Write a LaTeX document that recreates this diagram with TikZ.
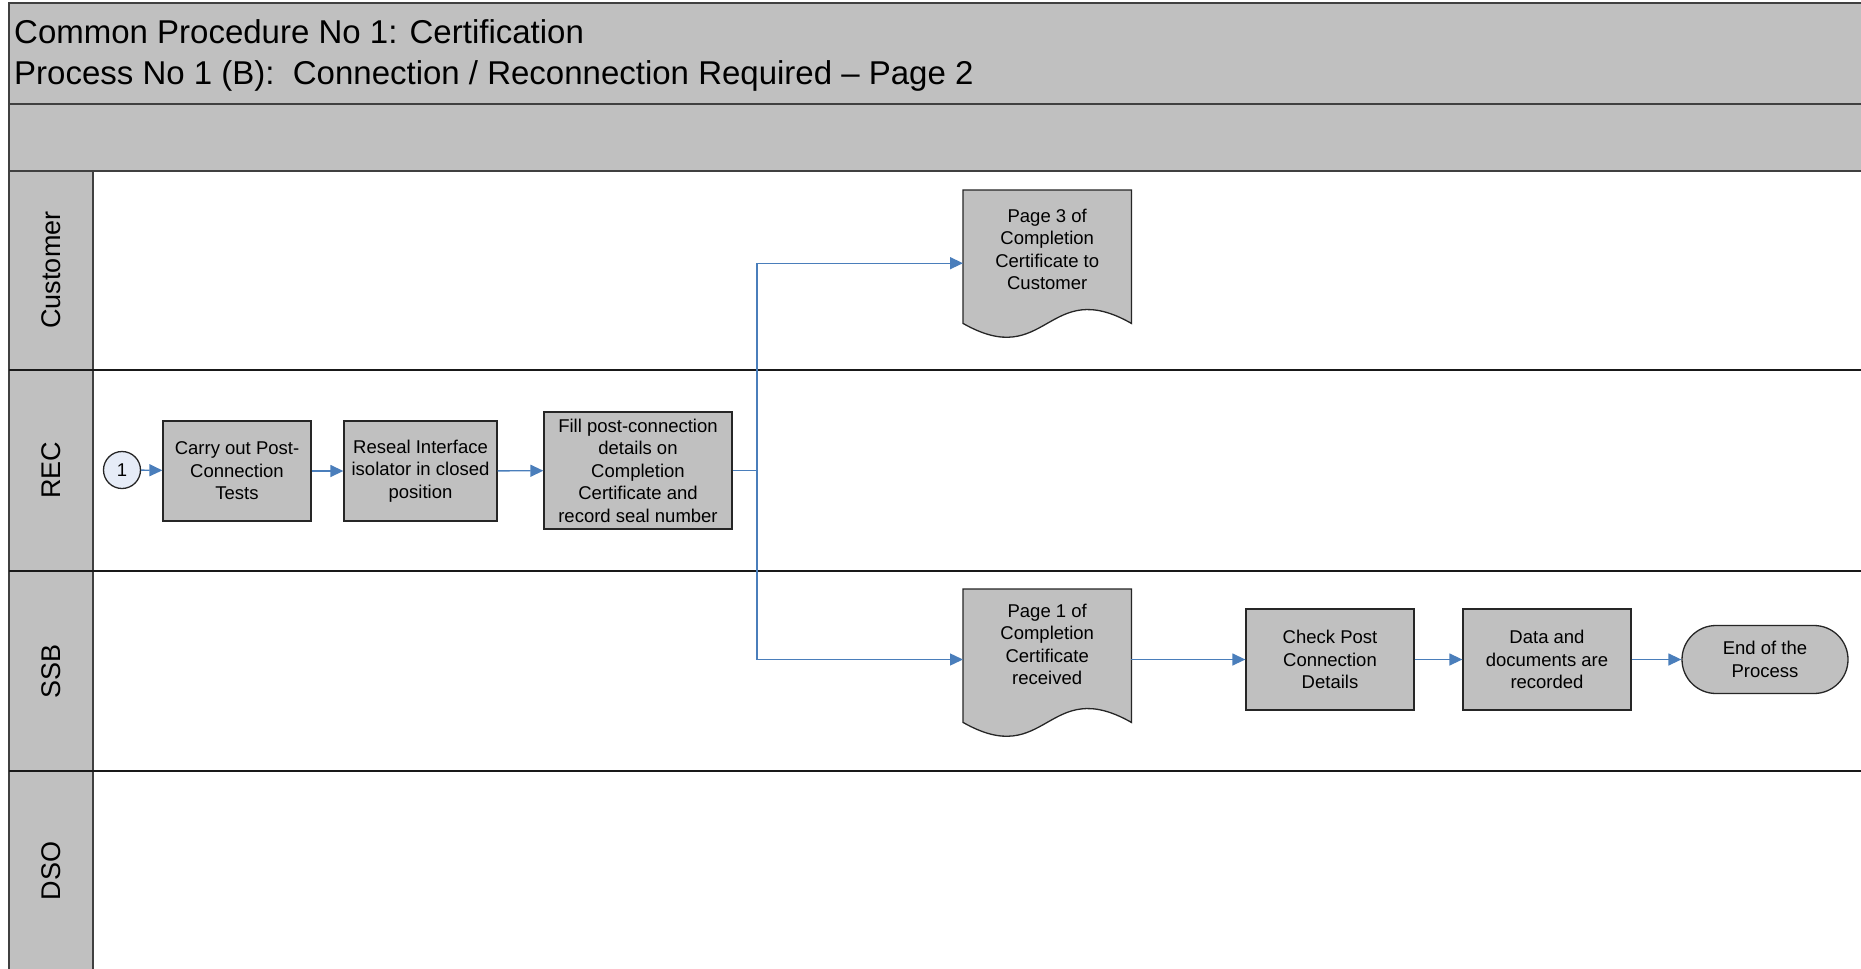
\documentclass[tikz,border=0pt]{standalone}
\usepackage{fontspec}
\setmainfont{Liberation Sans}
\usetikzlibrary{arrows.meta,calc}
\definecolor{lanegray}{RGB}{192,192,192}
\definecolor{framegray}{RGB}{64,64,64}
\definecolor{flowblue}{RGB}{74,126,187}
\definecolor{startfill}{RGB}{230,236,247}
\begin{document}
\begin{tikzpicture}[x=1pt,y=-1pt,
  frame/.style={draw=framegray, line width=1.6pt},
  laneline/.style={draw=black!90, line width=2pt},
  titletext/.style={font=\fontsize{33}{40}\selectfont, inner sep=0pt, anchor=west},
  lanelabel/.style={font=\fontsize{27}{32}\selectfont, rotate=90, inner sep=0pt},
  boxtext/.style={font=\fontsize{18.5}{22.5}\selectfont, align=center},
  procbox/.style={boxtext, draw=black!85, fill=lanegray, line width=1.3pt, inner sep=0pt},
  docnode/.style={minimum width=168pt, minimum height=146pt, inner sep=0pt, anchor=north west},
  docline/.style={draw=black!85, fill=lanegray, line width=1.3pt},
  startnode/.style={boxtext, circle, draw=black!85, fill=startfill, line width=1.3pt, minimum size=37pt, inner sep=0pt},
  endnode/.style={boxtext, draw=black!85, fill=lanegray, line width=1.3pt, rounded corners=34pt, minimum width=166pt, minimum height=68pt, inner sep=0pt},
  flow/.style={draw=flowblue, line width=1.4pt, -{Triangle[length=13pt,width=12pt]}},
  flowline/.style={draw=flowblue, line width=1.4pt}
]
\useasboundingbox (0,0) rectangle (1861,969);
\clip (0,0) rectangle (1861,969);
\fill[white] (0,0) rectangle (1861,969);

% title block and empty phase band
\draw[frame, fill=lanegray] (9,3) rectangle (1875,104);
\draw[frame, fill=lanegray] (9,104) rectangle (1875,171);
\node[titletext] (title1) at (14,32) {Common Procedure No 1: Certification};
\node[titletext] (title2) at (14,75.5) {Process No 1 (B):\ \ Connection / Reconnection Required -- Page 2};

% swimlane header column
\draw[frame, fill=lanegray] (9,171) rectangle (93,980);
\draw[laneline] (9,370) -- (1875,370);
\draw[laneline] (9,571) -- (1875,571);
\draw[laneline] (9,771) -- (1875,771);
\node[lanelabel] (laneC) at (51,270) {Customer};
\node[lanelabel] (laneR) at (51,470) {REC};
\node[lanelabel] (laneS) at (51,671) {SSB};
\node[lanelabel] (laneD) at (51,871) {DSO};

% REC lane steps
\node[startnode] (start) at (122,470) {1};
\node[procbox, minimum width=148pt, minimum height=100pt] (b1) at (237,471)
  {Carry out Post-\\Connection\\Tests};
\node[procbox, minimum width=153pt, minimum height=100pt] (b2) at (420.5,471)
  {Reseal Interface\\isolator in closed\\position};
\node[procbox, minimum width=188pt, minimum height=117pt] (b3) at (638,470.5)
  {Fill post-connection\\details on\\Completion\\Certificate and\\record seal number};

% documents (rectangle with wavy bottom edge)
\node[docnode] (doc1) at (963,190) {};
\node[docnode] (doc2) at (963,589) {};
\foreach \d in {doc1,doc2}{
  \draw[docline] (\d.north west) -- (\d.north east) -- ($(\d.south east)+(0,-13)$)
    .. controls ($(\d.south)+(0,-61)$) and ($(\d.south)+(0,35)$) .. ($(\d.south west)+(0,-13)$) -- cycle;
}
\node[boxtext, inner sep=0pt] (doc1text) at ([yshift=14pt]doc1.center)
  {Page 3 of\\Completion\\Certificate to\\Customer};
\node[boxtext, inner sep=0pt] (doc2text) at ([yshift=18pt]doc2.center)
  {Page 1 of\\Completion\\Certificate\\received};

% SSB lane steps
\node[procbox, minimum width=168pt, minimum height=101pt] (b4) at (1330,659.5)
  {Check Post\\Connection\\Details};
\node[procbox, minimum width=168pt, minimum height=101pt] (b5) at (1547,659.5)
  {Data and\\documents are\\recorded};
\node[endnode] (end) at (1765,659.5) {End of the\\Process};

% connectors
\coordinate (split) at (757,470.5);
\draw[flow] (start) -- (b1);
\draw[flow] (b1) -- (b2);
\draw[flow] (b2) -- (b3);
\draw[flowline] (b3.east) -- (split);
\draw[flow] (split) |- (doc1.west);
\draw[flow] (split) |- (doc2.west |- b4.west);
\draw[flow] (doc2.east |- b4.west) -- (b4.west);
\draw[flow] (b4) -- (b5);
\draw[flow] (b5) -- (end);
\end{tikzpicture}
\end{document}
